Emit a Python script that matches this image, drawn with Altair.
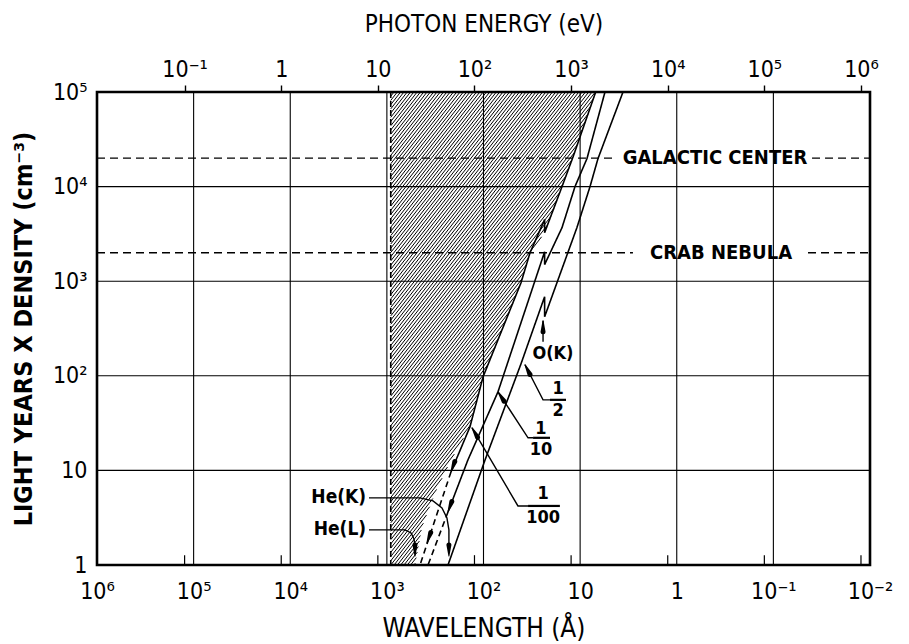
import math
import numpy as np
import pandas as pd
import altair as alt

HC = 12398.4  # eV * Angstrom

# ---------------- axes / ticks ----------------
wl_ticks = [1e6, 1e5, 1e4, 1e3, 1e2, 1e1, 1, 1e-1, 1e-2]
wl_labels = ["10⁶", "10⁵", "10⁴", "10³", "10²", "10", "1", "10⁻¹", "10⁻²"]
en_ticks = [1e-1, 1, 1e1, 1e2, 1e3, 1e4, 1e5, 1e6]
en_labels = ["10⁻¹", "1", "10", "10²", "10³", "10⁴", "10⁵", "10⁶"]
n_ticks = [1, 10, 100, 1e3, 1e4, 1e5]
n_labels = ["1", "10", "10²", "10³", "10⁴", "10⁵"]

# ---------------- curves (wavelength in A, light-years x density) ----------------
c100_wl = [6.9, 11.9, 15.4, 23.3, 23.3, 33.0, 40.9, 101, 138, 217]
c100_n = [1e5, 2.03e4, 1e4, 3260, 4480, 2000, 964, 97.6, 28.9, 9.64]
c100d_wl = [217, 454]
c100d_n = [9.64, 1]
c10_wl = [5.53, 8.49, 11.3, 15.4, 23.3, 23.3, 70.8, 145, 233]
c10_n = [1e5, 1.98e4, 1e4, 3680, 1500, 2050, 67.7, 12.9, 3.64]
c10d_wl = [233, 375]
c10d_n = [3.64, 1]
c2_wl = [3.60, 6.53, 7.90, 10.8, 23.3, 23.3, 40.9, 96.4, 233]
c2_n = [1e5, 1.98e4, 1e4, 3680, 421, 686, 134, 12.9, 1]

# hatched (opaque) region: from the Lyman limit to this boundary
lyman_wl = 912.0
hatch_wl = [512, 433, 318, 217, 138, 101, 40.9, 33.0, 23.3, 15.4, 11.9, 6.9]
hatch_n = [1, 2.52, 5.78, 12.9, 28.9, 97.6, 964, 2000, 3260, 1e4, 2.03e4, 1e5]

# reference densities
gal_n = 2e4
crab_n = 2e3
gal_seg_wl = [(1e6, 4.15), (0.0398, 1e-2)]
crab_seg_wl = [(1e6, 2.84), (0.0438, 1e-2)]

# labels
big_txt = ["GALACTIC CENTER", "CRAB NEBULA"]
big_wl = [0.402, 0.348]
big_n = [gal_n, crab_n]

ann_txt = ["O(K)", "1", "2", "1", "10", "1", "100"]
ann_wl = [19.1, 16.9, 16.9, 25.4, 25.4, 24.2, 24.2]
ann_n = [171, 72.5, 42.5, 27.4, 16.4, 5.63, 3.14]

he_txt = ["He(K)", "He(L)"]
he_wl = [1640, 1640]
he_n = [5.24, 2.40]

bars = [(20.5, 14.0, 55.7), (30.7, 20.5, 22.1), (34.6, 16.2, 4.21)]

leaders = {
    "f2": ([20.5, 24.2, 37.2], [55.7, 55.7, 131]),
    "f10": ([30.7, 34.6, 70.8], [22.1, 22.1, 67.7]),
    "f100": ([34.6, 44.0, 131.5], [4.21, 4.21, 28.2]),
    "ok": ([24.2, 24.2], [229, 382]),
    "hek": ([1531, 454, 333, 269, 239, 228, 228], [5.12, 5.12, 4.76, 4.01, 3.14, 2.35, 1.51]),
    "hel": ([1531, 649, 562, 524, 512, 512], [2.35, 2.35, 2.18, 1.88, 1.59, 1.40]),
}
# arrow tips and their pointing direction (degrees clockwise from up)
arrow_wl = [37.2, 70.8, 131.5, 24.2, 228, 512, 217, 233, 385]
arrow_n = [131, 67.7, 28.2, 382, 1.245, 1.245, 9.64, 3.64, 1.71]
arrow_ang = [333, 327, 330, 0, 180, 180, 200, 200, 200]

# ---------------- layout ----------------
W, H = 773, 473
FONT = "DejaVu Sans Condensed, DejaVu Sans"
sx, sy = W / 8.0, H / 5.0  # pixels per decade


def lexpr(ticks, labels):
    e = "round(log(datum.value)/LN10)"
    parts = [f"{e} == {round(math.log10(t))} ? '{lab}'" for t, lab in zip(ticks, labels)]
    return " : ".join(parts) + " : ''"


xscale = alt.Scale(type="log", domain=[1e-2, 1e6], reverse=True, nice=False)
yscale = alt.Scale(type="log", domain=[1, 1e5], nice=False)
xaxis = alt.Axis(values=wl_ticks, labelExpr=lexpr(wl_ticks, wl_labels), title="WAVELENGTH (Å)",
                 grid=False, ticks=False, domain=False, labelFontSize=23, labelPadding=15,
                 titleFontSize=26, titleFontWeight="normal", titlePadding=12,
                 labelFlush=False, labelOverlap=False)
yaxis = alt.Axis(values=n_ticks, labelExpr=lexpr(n_ticks, n_labels), title="LIGHT YEARS X DENSITY (cm⁻³)",
                 grid=False, ticks=False, domain=False, labelFontSize=23, labelPadding=10,
                 titleFontSize=25, titleFontWeight="bold", titlePadding=16,
                 labelFlush=False, labelOverlap=False)


def X(f="wl"):
    return alt.X(f"{f}:Q", scale=xscale, axis=xaxis)


def Y(f="N"):
    return alt.Y(f"{f}:Q", scale=yscale, axis=yaxis)


# ---------------- hatch texture, clipped to the opaque region ----------------
theta = math.radians(52)
tn = math.tan(theta)
step = 3.3
XL = (6 - math.log10(lyman_wl)) * sx
Yb = np.array([math.log10(n) * sy for n in hatch_n])
Xb = np.array([(6 - math.log10(w)) * sx for w in hatch_wl])
XR = Xb.max()


def f_off(c, yv):
    return c + yv / tn - np.interp(yv, Yb, Xb)


rows = []
c = XL - H / tn
while c < XR:
    ylo = max(0.0, (XL - c) * tn)
    if f_off(c, 0.0) >= 0:
        yhi = -1.0
    elif f_off(c, float(H)) <= 0:
        yhi = float(H)
    else:
        a, b = 0.0, float(H)
        for _ in range(40):
            m = 0.5 * (a + b)
            if f_off(c, m) < 0:
                a = m
            else:
                b = m
        yhi = 0.5 * (a + b)
    if yhi > ylo:
        x1, x2 = c + ylo / tn, c + yhi / tn
        rows.append({"wl": 10 ** (6 - x1 / sx), "N": 10 ** (ylo / sy),
                     "wl2": 10 ** (6 - x2 / sx), "N2": 10 ** (yhi / sy)})
    c += step
hatch_df = pd.DataFrame(rows)

hatch = alt.Chart(hatch_df).mark_rule(color="black", strokeWidth=1.0).encode(
    x=X(), x2="wl2", y=Y(), y2="N2")

# gridlines
vg = pd.DataFrame({"wl": wl_ticks[1:-1]})
hg = pd.DataFrame({"N": n_ticks[1:-1]})
vgrid = alt.Chart(vg).mark_rule(color="black", strokeWidth=1.1).encode(x=X())
hgrid = alt.Chart(hg).mark_rule(color="black", strokeWidth=1.1).encode(y=Y())

# Lyman limit dashed edge
ly = alt.Chart(pd.DataFrame({"wl": [lyman_wl]})).mark_rule(
    color="black", strokeWidth=1.6, strokeDash=[6, 3]).encode(x=X())

# dashed reference densities
ref_rows = []
for a, b in gal_seg_wl:
    ref_rows.append({"wl": a, "wl2": b, "N": gal_n})
for a, b in crab_seg_wl:
    ref_rows.append({"wl": a, "wl2": b, "N": crab_n})
refs = alt.Chart(pd.DataFrame(ref_rows)).mark_rule(
    color="black", strokeWidth=1.4, strokeDash=[8, 5]).encode(x=X(), x2="wl2", y=Y())

# curves
crows = []
for name, wls, ns, sty in [("c100", c100_wl, c100_n, "solid"), ("c100d", c100d_wl, c100d_n, "dashed"),
                           ("c10", c10_wl, c10_n, "solid"), ("c10d", c10d_wl, c10d_n, "dashed"),
                           ("c2", c2_wl, c2_n, "solid")]:
    for i, (w, n) in enumerate(zip(wls, ns)):
        crows.append({"wl": w, "N": n, "seg": name, "sty": sty, "i": i})
curves = alt.Chart(pd.DataFrame(crows)).mark_line(color="black", strokeWidth=1.6).encode(
    x=X(), y=Y(), detail="seg:N", order="i:Q",
    strokeDash=alt.StrokeDash("sty:N", scale=alt.Scale(domain=["solid", "dashed"],
                                                       range=[[1, 0], [6, 4]]), legend=None))

# leader lines
lrows = []
for name, (wls, ns) in leaders.items():
    for i, (w, n) in enumerate(zip(wls, ns)):
        lrows.append({"wl": w, "N": n, "id": name, "i": i})
lead = alt.Chart(pd.DataFrame(lrows)).mark_line(color="black", strokeWidth=1.4).encode(
    x=X(), y=Y(), detail="id:N", order="i:Q")

bar_df = pd.DataFrame([{"wl": a, "wl2": b, "N": n} for a, b, n in bars])
fbars = alt.Chart(bar_df).mark_rule(color="black", strokeWidth=2.2).encode(x=X(), x2="wl2", y=Y())

# arrowheads: tapered trails from a base point back along the direction to the tip
AL, AW = 11.0, 5.0
arows = []
for k, (w, n, a) in enumerate(zip(arrow_wl, arrow_n, arrow_ang)):
    tx = (6 - math.log10(w)) * sx
    ty = math.log10(n) * sy
    dx, dy = math.sin(math.radians(a)), math.cos(math.radians(a))
    bx, by = tx - AL * dx, ty - AL * dy
    arows.append({"wl": 10 ** (6 - bx / sx), "N": 10 ** (by / sy), "w": AW, "id": k, "i": 0})
    arows.append({"wl": w, "N": n, "w": 0.0, "id": k, "i": 1})
arrows = alt.Chart(pd.DataFrame(arows)).mark_trail(color="black").encode(
    x=X(), y=Y(), detail="id:N", order="i:Q", size=alt.Size("w:Q", scale=None, legend=None))

# energy ticks on bottom edge
et_df = pd.DataFrame({"wl": [HC / e for e in en_ticks], "N": [1] * len(en_ticks),
                      "N2": [1.27] * len(en_ticks)})
eticks = alt.Chart(et_df).mark_rule(color="black", strokeWidth=1.2).encode(x=X(), y=Y(), y2="N2")

# text
big = alt.Chart(pd.DataFrame({"wl": big_wl, "N": big_n, "t": big_txt})).mark_text(
    font=FONT, fontSize=20, fontWeight="bold", color="black", baseline="middle", align="center").encode(
    x=X(), y=Y(), text="t:N")
ann = alt.Chart(pd.DataFrame({"wl": ann_wl, "N": ann_n, "t": ann_txt})).mark_text(
    font=FONT, fontSize=18, fontWeight="bold", color="black", baseline="middle", align="center").encode(
    x=X(), y=Y(), text="t:N")
he = alt.Chart(pd.DataFrame({"wl": he_wl, "N": he_n, "t": he_txt})).mark_text(
    font=FONT, fontSize=19, fontWeight="bold", color="black", baseline="middle", align="right").encode(
    x=X(), y=Y(), text="t:N")

main = alt.layer(hatch, vgrid, hgrid, ly, refs, curves, lead, fbars, arrows, eticks, big, ann, he)

top = alt.Chart(pd.DataFrame({"E": en_ticks})).mark_point(opacity=0).encode(
    x=alt.X("E:Q", scale=alt.Scale(type="log", domain=[HC / 1e6, HC / 1e-2], nice=False),
            axis=alt.Axis(orient="top", values=en_ticks, labelExpr=lexpr(en_ticks, en_labels),
                          title="PHOTON ENERGY (eV)", grid=False, ticks=True, tickSize=7,
                          tickColor="black", tickWidth=1.4, domain=False, labelFontSize=23,
                          labelPadding=4, titleFontSize=24, titleFontWeight="normal",
                          titlePadding=22, labelFlush=False, labelOverlap=False)),
    y=alt.value(0))

chart = alt.layer(main, top).resolve_scale(x="independent").properties(
    width=W, height=H,
    autosize=alt.AutoSizeParams(type="none"),
    padding={"left": 89, "top": 84, "right": 30, "bottom": 78},
).configure_view(stroke="black", strokeWidth=2.6).configure_axis(
    labelFont=FONT, titleFont=FONT, labelColor="black", titleColor="black")

chart.save("out.html", embed_options={"renderer": "svg", "actions": False})
